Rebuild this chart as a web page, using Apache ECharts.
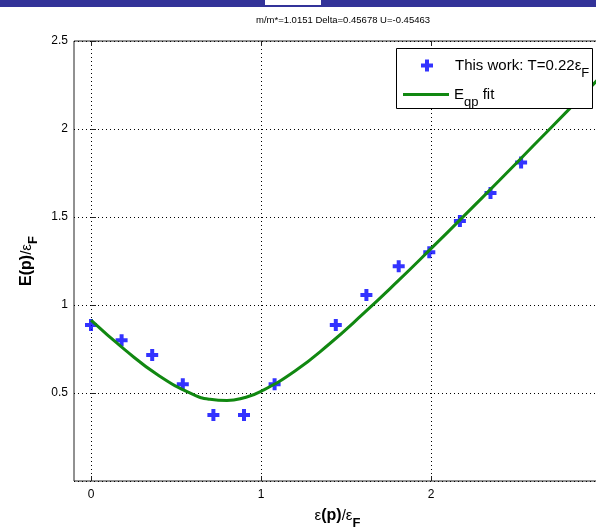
<!DOCTYPE html>
<html>
<head>
<meta charset="utf-8">
<script src="https://cdn.jsdelivr.net/npm/echarts@6/dist/echarts.min.js"></script>
<style>html,body{margin:0;padding:0;background:#fff;}#c{width:596px;height:529px;}</style>
</head>
<body>
<div id="c"></div>
<script>
// Measured points ("This work")
const pointX = [0, 0.18, 0.36, 0.54, 0.72, 0.90, 1.08, 1.44, 1.62, 1.81, 1.99, 2.17, 2.35, 2.53];
const pointY = [0.886, 0.80, 0.716, 0.55, 0.375, 0.375, 0.55, 0.886, 1.057, 1.22, 1.30, 1.477, 1.636, 1.81];
// Fit curve
const fitX = [0, 0.2, 0.4, 0.6, 0.7, 0.8, 0.9, 1.0, 1.2, 1.4, 1.6, 1.8, 2.0, 2.2, 2.4, 2.6, 2.8, 3.0];
const fitY = [0.914, 0.745, 0.598, 0.492, 0.464, 0.457, 0.473, 0.509, 0.625, 0.777, 0.949, 1.131, 1.320, 1.512, 1.706, 1.903, 2.100, 2.299];
const xTicks = [0, 1, 2, 3];
const xTickLabels = ['0', '1', '2', '3'];
const titleText = 'm/m*=1.0151 Delta=0.45678 U=-0.45463';

const plusPath = 'path://M4,0H8V4H12V8H8V12H4V8H0V4H4Z';
const font = 'Liberation Sans, Arial, Helvetica, sans-serif';

const chart = echarts.init(document.getElementById('c'));
const gridDash = {show: true, lineStyle: {color: '#000', width: 1, type: [1, 3]}};
const legendRich = {
  a: {fontFamily: font, fontSize: 15, color: '#000'},
  s: {fontFamily: font, fontSize: 13, color: '#000', padding: [15, 0, 0, 0]}
};
const nameRich = {
  e: {fontFamily: font, fontSize: 15, color: '#000'},
  b: {fontFamily: font, fontSize: 16, fontWeight: 'bold', color: '#000'},
  s: {fontFamily: font, fontSize: 13, fontWeight: 'bold', color: '#000', padding: [15, 0, 0, 0]}
};
chart.setOption({
  animation: false,
  backgroundColor: '#fff',
  title: {
    text: titleText, left: 338, top: 10, textAlign: 'center',
    textStyle: {fontFamily: font, fontSize: 9.5, fontWeight: 'normal', color: '#000'}
  },
  graphic: [
    {type: 'rect', shape: {x: 0, y: 0, width: 596, height: 7}, style: {fill: '#333399'}, z: 10},
    {type: 'rect', shape: {x: 265, y: 0, width: 56, height: 5}, style: {fill: '#ffffff'}, z: 11},
    {type: 'rect', shape: {x: 396.5, y: 48.5, width: 196, height: 60}, style: {fill: '#fff', stroke: '#000', lineWidth: 1}, z: 5}
  ],
  grid: {left: 74, right: -5, top: 41, bottom: 48, outerBoundsMode: 'none', containLabel: false,
    show: true, borderColor: '#222', borderWidth: 1, backgroundColor: 'transparent'},
  legend: [
    {
      data: [{name: 'This work'}], left: 416, top: 53, itemWidth: 46, itemHeight: 12, z: 20,
      formatter: () => '{a|This work: T=0.22ε}{s|F}',
      textStyle: {fontFamily: font, fontSize: 15, color: '#000', rich: legendRich}
    },
    {
      data: [{name: 'Eqp fit', icon: 'rect', itemStyle: {color: '#118811'}}], left: 398, top: 82, itemWidth: 46, itemHeight: 3, z: 20,
      formatter: () => '{a|E}{s|qp}{a| fit}',
      textStyle: {fontFamily: font, fontSize: 15, color: '#000', rich: legendRich}
    }
  ],
  xAxis: [
    {
      type: 'value', min: -0.1, max: 3, position: 'bottom',
      name: '{e|ε}{b|(p)}{e|/ε}{s|F}', nameLocation: 'middle', nameGap: 21,
      nameTextStyle: {rich: nameRich},
      axisLine: {show: false},
      axisTick: {show: true, inside: true, length: 5, customValues: xTicks, lineStyle: {color: '#222'}},
      axisLabel: {customValues: xTicks, formatter: v => xTickLabels[xTicks.indexOf(v)], fontFamily: font, fontSize: 12, color: '#000', margin: 8},
      splitLine: gridDash
    },
    {
      type: 'value', min: -0.1, max: 3, position: 'top',
      axisLine: {show: false},
      axisTick: {show: true, inside: true, length: 5, customValues: xTicks, lineStyle: {color: '#222'}},
      axisLabel: {show: false},
      splitLine: {show: false}
    }
  ],
  yAxis: {
    type: 'value', min: 0, max: 2.5, interval: 0.5,
    name: '{b|E(p)}{e|/ε}{s|F}', nameLocation: 'middle', nameGap: 32, nameRotate: 90,
    nameTextStyle: {rich: nameRich},
    axisLine: {show: false},
    axisTick: {show: true, inside: true, length: 5, lineStyle: {color: '#222'}},
    axisLabel: {showMinLabel: false, fontFamily: font, fontSize: 12, color: '#000', margin: 6},
    splitLine: gridDash
  },
  series: [
    {
      name: 'This work', type: 'scatter', xAxisIndex: 0,
      data: pointX.map((x, i) => [x, pointY[i]]),
      symbol: plusPath, symbolSize: 12, symbolKeepAspect: true,
      itemStyle: {color: '#0000ff'}, z: 2
    },
    {
      name: 'Eqp fit', type: 'line', xAxisIndex: 0,
      data: fitX.map((x, i) => [x, fitY[i]]),
      smooth: true, showSymbol: false, symbol: 'none',
      lineStyle: {color: '#118811', width: 3}, itemStyle: {color: '#118811'}, z: 3
    }
  ]
});
</script>
</body>
</html>
